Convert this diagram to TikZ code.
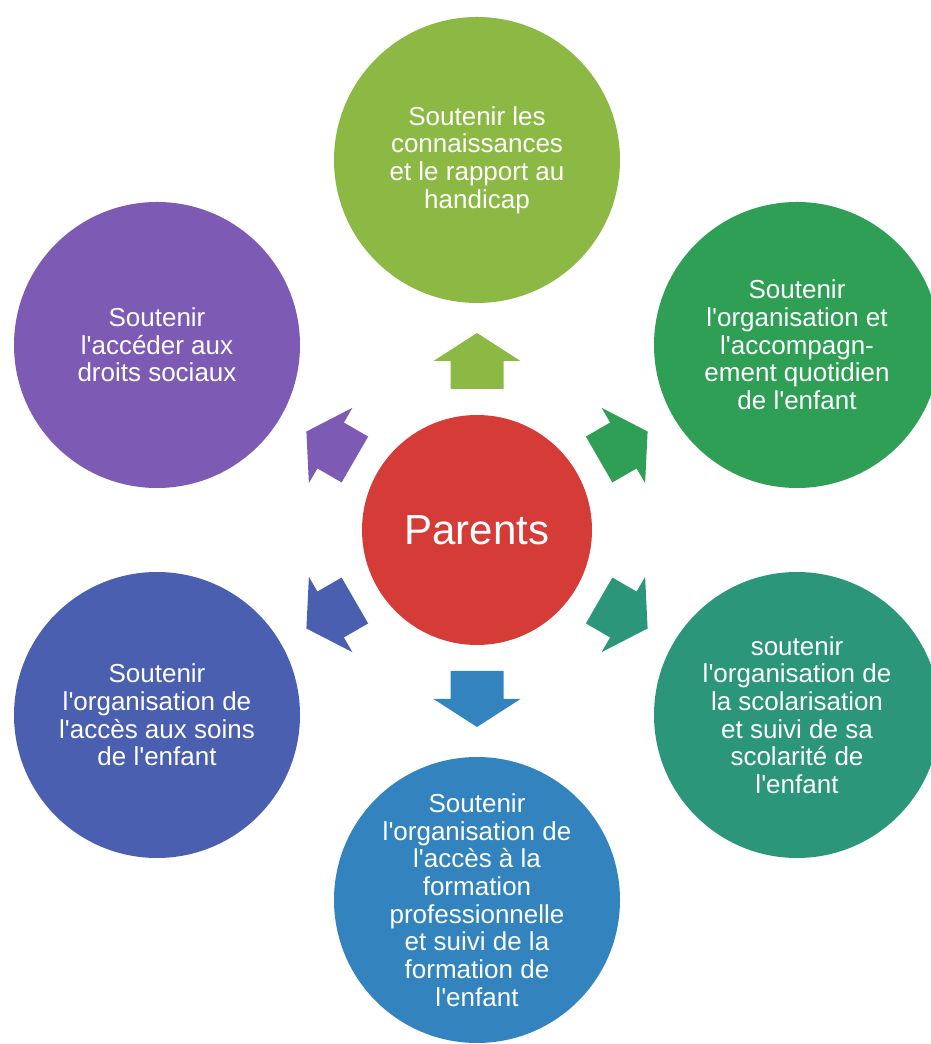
\documentclass[tikz,border=0pt]{standalone}
\usepackage{fontspec}
\setmainfont[Ligatures=TeXOff]{Liberation Sans}

\definecolor{rouge}{HTML}{D63C37}
\definecolor{vertclair}{HTML}{8CB944}
\definecolor{vert}{HTML}{2E9F55}
\definecolor{turquoise}{HTML}{2B9679}
\definecolor{bleuclair}{HTML}{3384BE}
\definecolor{bleu}{HTML}{4A5FB0}
\definecolor{violet}{HTML}{7D5AB4}

\tikzset{
  fleche/.pic={
    \fill (-26.5,141) -- (26.5,141) -- (26.5,169) -- (43.5,169) -- (0,197)
      -- (-43.5,169) -- (-26.5,169) -- cycle;
  }
}

\begin{document}
\begin{tikzpicture}[x=1pt, y=1pt,
    cercle/.style={circle, minimum size=286pt, inner sep=0pt, text=white,
      align=center, font=\fontsize{26}{27.7}\selectfont}]
    \useasboundingbox (0,0) rectangle (931,1044);

    \node[cercle, fill=rouge, minimum size=230pt,
      font=\fontsize{42}{46}\selectfont] (P) at (477, 514) {Parents};
    \node[cercle, fill=vertclair] (A) at (477, 884)
      {Soutenir les\\connaissances\\et le rapport au\\handicap};
    \node[cercle, fill=vert] (B) at (797, 699)
      {Soutenir\\l'organisation et\\l'accompagn-\\ement quotidien\\de l'enfant};
    \node[cercle, fill=turquoise] (C) at (797, 329)
      {soutenir\\l'organisation de\\la scolarisation\\et suivi de sa\\scolarité de\\l'enfant};
    \node[cercle, fill=bleuclair] (D) at (477, 144)
      {Soutenir\\l'organisation de\\l'accès à la\\formation\\professionnelle\\et suivi de la\\formation de\\l'enfant};
    \node[cercle, fill=bleu] (E) at (157, 329)
      {Soutenir\\l'organisation de\\l'accès aux soins\\de l'enfant};
    \node[cercle, fill=violet] (F) at (157, 699)
      {Soutenir\\l'accéder aux\\droits sociaux};

    % 矢印を描く
    \pic[color=vertclair] at (P) {fleche};
    \pic[color=vert, rotate=-60] at (P) {fleche};
    \pic[color=turquoise, rotate=-120] at (P) {fleche};
    \pic[color=bleuclair, rotate=180] at (P) {fleche};
    \pic[color=bleu, rotate=120] at (P) {fleche};
    \pic[color=violet, rotate=60] at (P) {fleche};
  \end{tikzpicture}
\end{document}
